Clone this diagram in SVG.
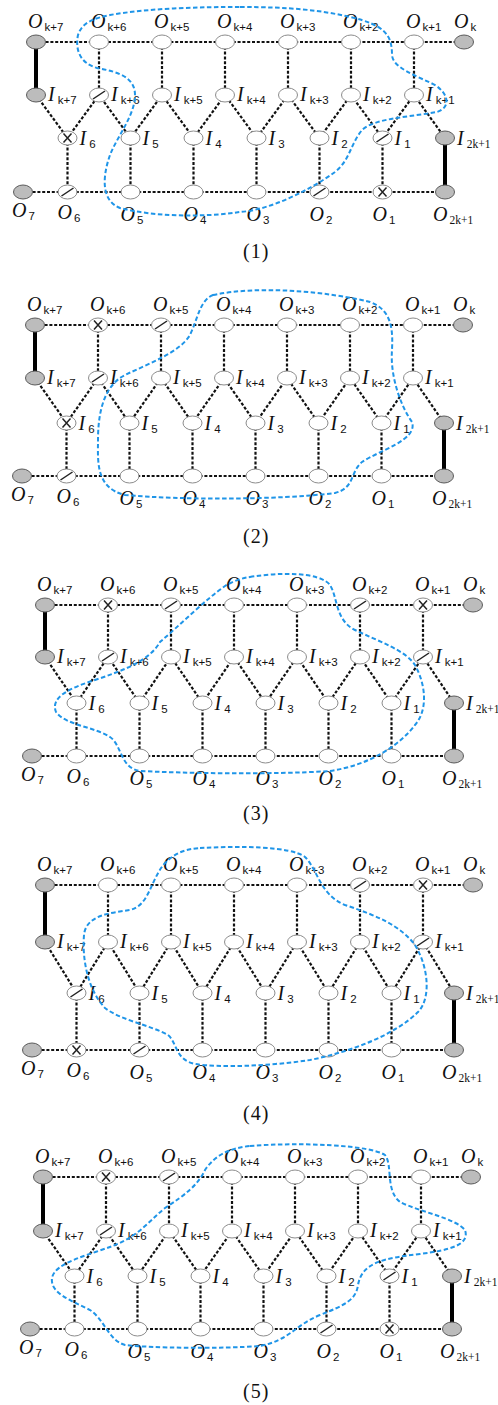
<svg xmlns="http://www.w3.org/2000/svg" xmlns:xlink="http://www.w3.org/1999/xlink" width="498" height="1405" viewBox="0 0 498 1405">
<style>
ellipse{rx:9.5px;ry:7px;stroke-width:1}
.w{fill:#fff;stroke:#8c8c8c}
.g{fill:#bcbcbc;stroke:#5a5a5a}
.d{fill:none;stroke:#111;stroke-width:2.2;stroke-dasharray:3 1.8}
.t{fill:none;stroke:#000;stroke-width:4}
.m{fill:none;stroke:#222;stroke-width:1.5}
.b{fill:none;stroke:#1f95e8;stroke-width:2;stroke-dasharray:4.5 2.5}
.L{font-family:"Liberation Serif",serif;font-style:italic;font-size:20px;fill:#111}
.s{font-family:"Liberation Sans",sans-serif;font-style:normal;font-size:11.5px}
.r{font-family:"Liberation Serif",serif;font-style:normal;font-size:11.5px}
.num{font-family:"Liberation Serif",serif;font-size:20px;letter-spacing:1px;fill:#111}
</style>
<defs>
<path id="sl" d="M-6 4L6-4"/>
<path id="xx" d="M-4-4.5L4 4.5M-4 4.5L4-4.5"/>
</defs>

<!-- ===== panel 1 ===== -->
<g id="p1-links">
<path class="d" d="M36 42H464M23 192H445M99 42V95M162 42V95M225 42V95M288 42V95M351 42V95M414 42V95M36 95L67.5 138L99 95L130.5 138L162 95L193.5 138L225 95L256.5 138L288 95L319.5 138L351 95L382.5 138L414 95L445 138M67.5 138V192M130.5 138V192M193.5 138V192M256.5 138V192M319.5 138V192M382.5 138V192"/>
<path class="t" d="M36 42V95M445 138V192"/>
</g>
<g id="p1-ok7"><ellipse class="g" cx="36" cy="42"/><text class="L" x="28" y="28">O<tspan class="s" dx="2" dy="3">k+7</tspan></text></g>
<g id="p1-ok6"><ellipse class="w" cx="99" cy="42"/><text class="L" x="91" y="28">O<tspan class="s" dx="2" dy="3">k+6</tspan></text></g>
<g id="p1-ok5"><ellipse class="w" cx="162" cy="42"/><text class="L" x="154" y="28">O<tspan class="s" dx="2" dy="3">k+5</tspan></text></g>
<g id="p1-ok4"><ellipse class="w" cx="225" cy="42"/><text class="L" x="217" y="28">O<tspan class="s" dx="2" dy="3">k+4</tspan></text></g>
<g id="p1-ok3"><ellipse class="w" cx="288" cy="42"/><text class="L" x="280" y="28">O<tspan class="s" dx="2" dy="3">k+3</tspan></text></g>
<g id="p1-ok2"><ellipse class="w" cx="351" cy="42"/><text class="L" x="343" y="28">O<tspan class="s" dx="2" dy="3">k+2</tspan></text></g>
<g id="p1-ok1"><ellipse class="w" cx="414" cy="42"/><text class="L" x="406" y="28">O<tspan class="s" dx="2" dy="3">k+1</tspan></text></g>
<g id="p1-ok"><ellipse class="g" cx="464" cy="42"/><text class="L" x="454" y="28">O<tspan class="s" dx="2" dy="3">k</tspan></text></g>
<g id="p1-ik7"><ellipse class="g" cx="36" cy="95"/><text class="L" x="48" y="101">I<tspan class="s" dx="3" dy="3">k+7</tspan></text></g>
<g id="p1-ik6"><ellipse class="w" cx="99" cy="95"/><use href="#sl" x="99" y="95" class="m"/><text class="L" x="111" y="101">I<tspan class="s" dx="3" dy="3">k+6</tspan></text></g>
<g id="p1-ik5"><ellipse class="w" cx="162" cy="95"/><text class="L" x="174" y="101">I<tspan class="s" dx="3" dy="3">k+5</tspan></text></g>
<g id="p1-ik4"><ellipse class="w" cx="225" cy="95"/><text class="L" x="237" y="101">I<tspan class="s" dx="3" dy="3">k+4</tspan></text></g>
<g id="p1-ik3"><ellipse class="w" cx="288" cy="95"/><text class="L" x="300" y="101">I<tspan class="s" dx="3" dy="3">k+3</tspan></text></g>
<g id="p1-ik2"><ellipse class="w" cx="351" cy="95"/><text class="L" x="363" y="101">I<tspan class="s" dx="3" dy="3">k+2</tspan></text></g>
<g id="p1-ik1"><ellipse class="w" cx="414" cy="95"/><text class="L" x="426" y="101">I<tspan class="s" dx="3" dy="3">k+1</tspan></text></g>
<g id="p1-i6"><ellipse class="w" cx="67.5" cy="138"/><use href="#xx" x="67.5" y="138" class="m"/><text class="L" x="79.5" y="145">I<tspan class="s" dx="3" dy="3">6</tspan></text></g>
<g id="p1-i5"><ellipse class="w" cx="130.5" cy="138"/><text class="L" x="142.5" y="145">I<tspan class="s" dx="3" dy="3">5</tspan></text></g>
<g id="p1-i4"><ellipse class="w" cx="193.5" cy="138"/><text class="L" x="205.5" y="145">I<tspan class="s" dx="3" dy="3">4</tspan></text></g>
<g id="p1-i3"><ellipse class="w" cx="256.5" cy="138"/><text class="L" x="268.5" y="145">I<tspan class="s" dx="3" dy="3">3</tspan></text></g>
<g id="p1-i2"><ellipse class="w" cx="319.5" cy="138"/><text class="L" x="331.5" y="145">I<tspan class="s" dx="3" dy="3">2</tspan></text></g>
<g id="p1-i1"><ellipse class="w" cx="382.5" cy="138"/><use href="#sl" x="382.5" y="138" class="m"/><text class="L" x="394.5" y="145">I<tspan class="s" dx="3" dy="3">1</tspan></text></g>
<g id="p1-i2k1"><ellipse class="g" cx="445" cy="138"/><text class="L" x="457" y="145">I<tspan class="r" dx="3" dy="3">2k+1</tspan></text></g>
<g id="p1-o7"><ellipse class="g" cx="23" cy="192"/><text class="L" x="12" y="217">O<tspan class="s" dx="2" dy="3">7</tspan></text></g>
<g id="p1-o6"><ellipse class="w" cx="67.5" cy="192"/><use href="#sl" x="67.5" y="192" class="m"/><text class="L" x="57.5" y="219">O<tspan class="s" dx="2" dy="3">6</tspan></text></g>
<g id="p1-o5"><ellipse class="w" cx="130.5" cy="192"/><text class="L" x="120.5" y="221">O<tspan class="s" dx="2" dy="3">5</tspan></text></g>
<g id="p1-o4"><ellipse class="w" cx="193.5" cy="192"/><text class="L" x="183.5" y="221">O<tspan class="s" dx="2" dy="3">4</tspan></text></g>
<g id="p1-o3"><ellipse class="w" cx="256.5" cy="192"/><text class="L" x="246.5" y="221">O<tspan class="s" dx="2" dy="3">3</tspan></text></g>
<g id="p1-o2"><ellipse class="w" cx="319.5" cy="192"/><use href="#sl" x="319.5" y="192" class="m"/><text class="L" x="309.5" y="221">O<tspan class="s" dx="2" dy="3">2</tspan></text></g>
<g id="p1-o1"><ellipse class="w" cx="382.5" cy="192"/><use href="#xx" x="382.5" y="192" class="m"/><text class="L" x="372.5" y="221">O<tspan class="s" dx="2" dy="3">1</tspan></text></g>
<g id="p1-o2k1"><ellipse class="g" cx="445" cy="192"/><text class="L" x="433" y="221">O<tspan class="r" dx="2" dy="3">2k+1</tspan></text></g>
<text id="p1-num" class="num" x="243" y="258">(1)</text>

<!-- ===== panel 2 ===== -->
<g id="p2-links">
<path class="d" d="M35 325H463M22 476H444M98 325V378M161 325V378M224 325V378M287 325V378M350 325V378M413 325V378M35 378L66.5 423L98 378L129.5 423L161 378L192.5 423L224 378L255.5 423L287 378L318.5 423L350 378L381.5 423L413 378L444 423M66.5 423V476M129.5 423V476M192.5 423V476M255.5 423V476M318.5 423V476M381.5 423V476"/>
<path class="t" d="M35 325V378M444 423V476"/>
</g>
<g id="p2-ok7"><ellipse class="g" cx="35" cy="325"/><text class="L" x="27" y="311">O<tspan class="s" dx="2" dy="3">k+7</tspan></text></g>
<g id="p2-ok6"><ellipse class="w" cx="98" cy="325"/><use href="#xx" x="98" y="325" class="m"/><text class="L" x="90" y="311">O<tspan class="s" dx="2" dy="3">k+6</tspan></text></g>
<g id="p2-ok5"><ellipse class="w" cx="161" cy="325"/><use href="#sl" x="161" y="325" class="m"/><text class="L" x="153" y="311">O<tspan class="s" dx="2" dy="3">k+5</tspan></text></g>
<g id="p2-ok4"><ellipse class="w" cx="224" cy="325"/><text class="L" x="216" y="311">O<tspan class="s" dx="2" dy="3">k+4</tspan></text></g>
<g id="p2-ok3"><ellipse class="w" cx="287" cy="325"/><text class="L" x="279" y="311">O<tspan class="s" dx="2" dy="3">k+3</tspan></text></g>
<g id="p2-ok2"><ellipse class="w" cx="350" cy="325"/><text class="L" x="342" y="311">O<tspan class="s" dx="2" dy="3">k+2</tspan></text></g>
<g id="p2-ok1"><ellipse class="w" cx="413" cy="325"/><text class="L" x="405" y="311">O<tspan class="s" dx="2" dy="3">k+1</tspan></text></g>
<g id="p2-ok"><ellipse class="g" cx="463" cy="325"/><text class="L" x="453" y="311">O<tspan class="s" dx="2" dy="3">k</tspan></text></g>
<g id="p2-ik7"><ellipse class="g" cx="35" cy="378"/><text class="L" x="47" y="384">I<tspan class="s" dx="3" dy="3">k+7</tspan></text></g>
<g id="p2-ik6"><ellipse class="w" cx="98" cy="378"/><use href="#sl" x="98" y="378" class="m"/><text class="L" x="110" y="384">I<tspan class="s" dx="3" dy="3">k+6</tspan></text></g>
<g id="p2-ik5"><ellipse class="w" cx="161" cy="378"/><text class="L" x="173" y="384">I<tspan class="s" dx="3" dy="3">k+5</tspan></text></g>
<g id="p2-ik4"><ellipse class="w" cx="224" cy="378"/><text class="L" x="236" y="384">I<tspan class="s" dx="3" dy="3">k+4</tspan></text></g>
<g id="p2-ik3"><ellipse class="w" cx="287" cy="378"/><text class="L" x="299" y="384">I<tspan class="s" dx="3" dy="3">k+3</tspan></text></g>
<g id="p2-ik2"><ellipse class="w" cx="350" cy="378"/><text class="L" x="362" y="384">I<tspan class="s" dx="3" dy="3">k+2</tspan></text></g>
<g id="p2-ik1"><ellipse class="w" cx="413" cy="378"/><text class="L" x="425" y="384">I<tspan class="s" dx="3" dy="3">k+1</tspan></text></g>
<g id="p2-i6"><ellipse class="w" cx="66.5" cy="423"/><use href="#xx" x="66.5" y="423" class="m"/><text class="L" x="78.5" y="430">I<tspan class="s" dx="3" dy="3">6</tspan></text></g>
<g id="p2-i5"><ellipse class="w" cx="129.5" cy="423"/><text class="L" x="141.5" y="430">I<tspan class="s" dx="3" dy="3">5</tspan></text></g>
<g id="p2-i4"><ellipse class="w" cx="192.5" cy="423"/><text class="L" x="204.5" y="430">I<tspan class="s" dx="3" dy="3">4</tspan></text></g>
<g id="p2-i3"><ellipse class="w" cx="255.5" cy="423"/><text class="L" x="267.5" y="430">I<tspan class="s" dx="3" dy="3">3</tspan></text></g>
<g id="p2-i2"><ellipse class="w" cx="318.5" cy="423"/><text class="L" x="330.5" y="430">I<tspan class="s" dx="3" dy="3">2</tspan></text></g>
<g id="p2-i1"><ellipse class="w" cx="381.5" cy="423"/><text class="L" x="393.5" y="430">I<tspan class="s" dx="3" dy="3">1</tspan></text></g>
<g id="p2-i2k1"><ellipse class="g" cx="444" cy="423"/><text class="L" x="456" y="430">I<tspan class="r" dx="3" dy="3">2k+1</tspan></text></g>
<g id="p2-o7"><ellipse class="g" cx="22" cy="476"/><text class="L" x="11" y="501">O<tspan class="s" dx="2" dy="3">7</tspan></text></g>
<g id="p2-o6"><ellipse class="w" cx="66.5" cy="476"/><use href="#sl" x="66.5" y="476" class="m"/><text class="L" x="56.5" y="503">O<tspan class="s" dx="2" dy="3">6</tspan></text></g>
<g id="p2-o5"><ellipse class="w" cx="129.5" cy="476"/><text class="L" x="119.5" y="505">O<tspan class="s" dx="2" dy="3">5</tspan></text></g>
<g id="p2-o4"><ellipse class="w" cx="192.5" cy="476"/><text class="L" x="182.5" y="505">O<tspan class="s" dx="2" dy="3">4</tspan></text></g>
<g id="p2-o3"><ellipse class="w" cx="255.5" cy="476"/><text class="L" x="245.5" y="505">O<tspan class="s" dx="2" dy="3">3</tspan></text></g>
<g id="p2-o2"><ellipse class="w" cx="318.5" cy="476"/><text class="L" x="308.5" y="505">O<tspan class="s" dx="2" dy="3">2</tspan></text></g>
<g id="p2-o1"><ellipse class="w" cx="381.5" cy="476"/><text class="L" x="371.5" y="505">O<tspan class="s" dx="2" dy="3">1</tspan></text></g>
<g id="p2-o2k1"><ellipse class="g" cx="444" cy="476"/><text class="L" x="432" y="505">O<tspan class="r" dx="2" dy="3">2k+1</tspan></text></g>
<text id="p2-num" class="num" x="243" y="543">(2)</text>

<!-- ===== panel 3 ===== -->
<g id="p3-links">
<path class="d" d="M45 605H473M32 756H454M108 605V657M171 605V657M234 605V657M297 605V657M360 605V657M423 605V657M45 657L76.5 703L108 657L139.5 703L171 657L202.5 703L234 657L265.5 703L297 657L328.5 703L360 657L391.5 703L423 657L454 703M76.5 703V756M139.5 703V756M202.5 703V756M265.5 703V756M328.5 703V756M391.5 703V756"/>
<path class="t" d="M45 605V657M454 703V756"/>
</g>
<g id="p3-ok7"><ellipse class="g" cx="45" cy="605"/><text class="L" x="37" y="591">O<tspan class="s" dx="2" dy="3">k+7</tspan></text></g>
<g id="p3-ok6"><ellipse class="w" cx="108" cy="605"/><use href="#xx" x="108" y="605" class="m"/><text class="L" x="100" y="591">O<tspan class="s" dx="2" dy="3">k+6</tspan></text></g>
<g id="p3-ok5"><ellipse class="w" cx="171" cy="605"/><use href="#sl" x="171" y="605" class="m"/><text class="L" x="163" y="591">O<tspan class="s" dx="2" dy="3">k+5</tspan></text></g>
<g id="p3-ok4"><ellipse class="w" cx="234" cy="605"/><text class="L" x="226" y="591">O<tspan class="s" dx="2" dy="3">k+4</tspan></text></g>
<g id="p3-ok3"><ellipse class="w" cx="297" cy="605"/><text class="L" x="289" y="591">O<tspan class="s" dx="2" dy="3">k+3</tspan></text></g>
<g id="p3-ok2"><ellipse class="w" cx="360" cy="605"/><use href="#sl" x="360" y="605" class="m"/><text class="L" x="352" y="591">O<tspan class="s" dx="2" dy="3">k+2</tspan></text></g>
<g id="p3-ok1"><ellipse class="w" cx="423" cy="605"/><use href="#xx" x="423" y="605" class="m"/><text class="L" x="415" y="591">O<tspan class="s" dx="2" dy="3">k+1</tspan></text></g>
<g id="p3-ok"><ellipse class="g" cx="473" cy="605"/><text class="L" x="463" y="591">O<tspan class="s" dx="2" dy="3">k</tspan></text></g>
<g id="p3-ik7"><ellipse class="g" cx="45" cy="657"/><text class="L" x="57" y="663">I<tspan class="s" dx="3" dy="3">k+7</tspan></text></g>
<g id="p3-ik6"><ellipse class="w" cx="108" cy="657"/><use href="#sl" x="108" y="657" class="m"/><text class="L" x="120" y="663">I<tspan class="s" dx="3" dy="3">k+6</tspan></text></g>
<g id="p3-ik5"><ellipse class="w" cx="171" cy="657"/><text class="L" x="183" y="663">I<tspan class="s" dx="3" dy="3">k+5</tspan></text></g>
<g id="p3-ik4"><ellipse class="w" cx="234" cy="657"/><text class="L" x="246" y="663">I<tspan class="s" dx="3" dy="3">k+4</tspan></text></g>
<g id="p3-ik3"><ellipse class="w" cx="297" cy="657"/><text class="L" x="309" y="663">I<tspan class="s" dx="3" dy="3">k+3</tspan></text></g>
<g id="p3-ik2"><ellipse class="w" cx="360" cy="657"/><text class="L" x="372" y="663">I<tspan class="s" dx="3" dy="3">k+2</tspan></text></g>
<g id="p3-ik1"><ellipse class="w" cx="423" cy="657"/><use href="#sl" x="423" y="657" class="m"/><text class="L" x="435" y="663">I<tspan class="s" dx="3" dy="3">k+1</tspan></text></g>
<g id="p3-i6"><ellipse class="w" cx="76.5" cy="703"/><text class="L" x="88.5" y="710">I<tspan class="s" dx="3" dy="3">6</tspan></text></g>
<g id="p3-i5"><ellipse class="w" cx="139.5" cy="703"/><text class="L" x="151.5" y="710">I<tspan class="s" dx="3" dy="3">5</tspan></text></g>
<g id="p3-i4"><ellipse class="w" cx="202.5" cy="703"/><text class="L" x="214.5" y="710">I<tspan class="s" dx="3" dy="3">4</tspan></text></g>
<g id="p3-i3"><ellipse class="w" cx="265.5" cy="703"/><text class="L" x="277.5" y="710">I<tspan class="s" dx="3" dy="3">3</tspan></text></g>
<g id="p3-i2"><ellipse class="w" cx="328.5" cy="703"/><text class="L" x="340.5" y="710">I<tspan class="s" dx="3" dy="3">2</tspan></text></g>
<g id="p3-i1"><ellipse class="w" cx="391.5" cy="703"/><text class="L" x="403.5" y="710">I<tspan class="s" dx="3" dy="3">1</tspan></text></g>
<g id="p3-i2k1"><ellipse class="g" cx="454" cy="703"/><text class="L" x="466" y="710">I<tspan class="r" dx="3" dy="3">2k+1</tspan></text></g>
<g id="p3-o7"><ellipse class="g" cx="32" cy="756"/><text class="L" x="21" y="781">O<tspan class="s" dx="2" dy="3">7</tspan></text></g>
<g id="p3-o6"><ellipse class="w" cx="76.5" cy="756"/><text class="L" x="66.5" y="783">O<tspan class="s" dx="2" dy="3">6</tspan></text></g>
<g id="p3-o5"><ellipse class="w" cx="139.5" cy="756"/><text class="L" x="129.5" y="785">O<tspan class="s" dx="2" dy="3">5</tspan></text></g>
<g id="p3-o4"><ellipse class="w" cx="202.5" cy="756"/><text class="L" x="192.5" y="785">O<tspan class="s" dx="2" dy="3">4</tspan></text></g>
<g id="p3-o3"><ellipse class="w" cx="265.5" cy="756"/><text class="L" x="255.5" y="785">O<tspan class="s" dx="2" dy="3">3</tspan></text></g>
<g id="p3-o2"><ellipse class="w" cx="328.5" cy="756"/><text class="L" x="318.5" y="785">O<tspan class="s" dx="2" dy="3">2</tspan></text></g>
<g id="p3-o1"><ellipse class="w" cx="391.5" cy="756"/><text class="L" x="381.5" y="785">O<tspan class="s" dx="2" dy="3">1</tspan></text></g>
<g id="p3-o2k1"><ellipse class="g" cx="454" cy="756"/><text class="L" x="442" y="785">O<tspan class="r" dx="2" dy="3">2k+1</tspan></text></g>
<text id="p3-num" class="num" x="243" y="820">(3)</text>

<!-- ===== panel 4 ===== -->
<g id="p4-links">
<path class="d" d="M45 885H473M32 1050H454M108 885V942M171 885V942M234 885V942M297 885V942M360 885V942M423 885V942M45 942L76.5 993L108 942L139.5 993L171 942L202.5 993L234 942L265.5 993L297 942L328.5 993L360 942L391.5 993L423 942L454 993M76.5 993V1050M139.5 993V1050M202.5 993V1050M265.5 993V1050M328.5 993V1050M391.5 993V1050"/>
<path class="t" d="M45 885V942M454 993V1050"/>
</g>
<g id="p4-ok7"><ellipse class="g" cx="45" cy="885"/><text class="L" x="37" y="871">O<tspan class="s" dx="2" dy="3">k+7</tspan></text></g>
<g id="p4-ok6"><ellipse class="w" cx="108" cy="885"/><text class="L" x="100" y="871">O<tspan class="s" dx="2" dy="3">k+6</tspan></text></g>
<g id="p4-ok5"><ellipse class="w" cx="171" cy="885"/><text class="L" x="163" y="871">O<tspan class="s" dx="2" dy="3">k+5</tspan></text></g>
<g id="p4-ok4"><ellipse class="w" cx="234" cy="885"/><text class="L" x="226" y="871">O<tspan class="s" dx="2" dy="3">k+4</tspan></text></g>
<g id="p4-ok3"><ellipse class="w" cx="297" cy="885"/><text class="L" x="289" y="871">O<tspan class="s" dx="2" dy="3">k+3</tspan></text></g>
<g id="p4-ok2"><ellipse class="w" cx="360" cy="885"/><use href="#sl" x="360" y="885" class="m"/><text class="L" x="352" y="871">O<tspan class="s" dx="2" dy="3">k+2</tspan></text></g>
<g id="p4-ok1"><ellipse class="w" cx="423" cy="885"/><use href="#xx" x="423" y="885" class="m"/><text class="L" x="415" y="871">O<tspan class="s" dx="2" dy="3">k+1</tspan></text></g>
<g id="p4-ok"><ellipse class="g" cx="473" cy="885"/><text class="L" x="463" y="871">O<tspan class="s" dx="2" dy="3">k</tspan></text></g>
<g id="p4-ik7"><ellipse class="g" cx="45" cy="942"/><text class="L" x="57" y="948">I<tspan class="s" dx="3" dy="3">k+7</tspan></text></g>
<g id="p4-ik6"><ellipse class="w" cx="108" cy="942"/><text class="L" x="120" y="948">I<tspan class="s" dx="3" dy="3">k+6</tspan></text></g>
<g id="p4-ik5"><ellipse class="w" cx="171" cy="942"/><text class="L" x="183" y="948">I<tspan class="s" dx="3" dy="3">k+5</tspan></text></g>
<g id="p4-ik4"><ellipse class="w" cx="234" cy="942"/><text class="L" x="246" y="948">I<tspan class="s" dx="3" dy="3">k+4</tspan></text></g>
<g id="p4-ik3"><ellipse class="w" cx="297" cy="942"/><text class="L" x="309" y="948">I<tspan class="s" dx="3" dy="3">k+3</tspan></text></g>
<g id="p4-ik2"><ellipse class="w" cx="360" cy="942"/><text class="L" x="372" y="948">I<tspan class="s" dx="3" dy="3">k+2</tspan></text></g>
<g id="p4-ik1"><ellipse class="w" cx="423" cy="942"/><use href="#sl" x="423" y="942" class="m"/><text class="L" x="435" y="948">I<tspan class="s" dx="3" dy="3">k+1</tspan></text></g>
<g id="p4-i6"><ellipse class="w" cx="76.5" cy="993"/><use href="#sl" x="76.5" y="993" class="m"/><text class="L" x="88.5" y="1000">I<tspan class="s" dx="3" dy="3">6</tspan></text></g>
<g id="p4-i5"><ellipse class="w" cx="139.5" cy="993"/><text class="L" x="151.5" y="1000">I<tspan class="s" dx="3" dy="3">5</tspan></text></g>
<g id="p4-i4"><ellipse class="w" cx="202.5" cy="993"/><text class="L" x="214.5" y="1000">I<tspan class="s" dx="3" dy="3">4</tspan></text></g>
<g id="p4-i3"><ellipse class="w" cx="265.5" cy="993"/><text class="L" x="277.5" y="1000">I<tspan class="s" dx="3" dy="3">3</tspan></text></g>
<g id="p4-i2"><ellipse class="w" cx="328.5" cy="993"/><text class="L" x="340.5" y="1000">I<tspan class="s" dx="3" dy="3">2</tspan></text></g>
<g id="p4-i1"><ellipse class="w" cx="391.5" cy="993"/><text class="L" x="403.5" y="1000">I<tspan class="s" dx="3" dy="3">1</tspan></text></g>
<g id="p4-i2k1"><ellipse class="g" cx="454" cy="993"/><text class="L" x="466" y="1000">I<tspan class="r" dx="3" dy="3">2k+1</tspan></text></g>
<g id="p4-o7"><ellipse class="g" cx="32" cy="1050"/><text class="L" x="21" y="1075">O<tspan class="s" dx="2" dy="3">7</tspan></text></g>
<g id="p4-o6"><ellipse class="w" cx="76.5" cy="1050"/><use href="#xx" x="76.5" y="1050" class="m"/><text class="L" x="66.5" y="1077">O<tspan class="s" dx="2" dy="3">6</tspan></text></g>
<g id="p4-o5"><ellipse class="w" cx="139.5" cy="1050"/><use href="#sl" x="139.5" y="1050" class="m"/><text class="L" x="129.5" y="1079">O<tspan class="s" dx="2" dy="3">5</tspan></text></g>
<g id="p4-o4"><ellipse class="w" cx="202.5" cy="1050"/><text class="L" x="192.5" y="1079">O<tspan class="s" dx="2" dy="3">4</tspan></text></g>
<g id="p4-o3"><ellipse class="w" cx="265.5" cy="1050"/><text class="L" x="255.5" y="1079">O<tspan class="s" dx="2" dy="3">3</tspan></text></g>
<g id="p4-o2"><ellipse class="w" cx="328.5" cy="1050"/><text class="L" x="318.5" y="1079">O<tspan class="s" dx="2" dy="3">2</tspan></text></g>
<g id="p4-o1"><ellipse class="w" cx="391.5" cy="1050"/><text class="L" x="381.5" y="1079">O<tspan class="s" dx="2" dy="3">1</tspan></text></g>
<g id="p4-o2k1"><ellipse class="g" cx="454" cy="1050"/><text class="L" x="442" y="1079">O<tspan class="r" dx="2" dy="3">2k+1</tspan></text></g>
<text id="p4-num" class="num" x="243" y="1120">(4)</text>

<!-- ===== panel 5 ===== -->
<g id="p5-links">
<path class="d" d="M43 1177H471M30 1329H452M106 1177V1231M169 1177V1231M232 1177V1231M295 1177V1231M358 1177V1231M421 1177V1231M43 1231L74.5 1276L106 1231L137.5 1276L169 1231L200.5 1276L232 1231L263.5 1276L295 1231L326.5 1276L358 1231L389.5 1276L421 1231L452 1276M74.5 1276V1329M137.5 1276V1329M200.5 1276V1329M263.5 1276V1329M326.5 1276V1329M389.5 1276V1329"/>
<path class="t" d="M43 1177V1231M452 1276V1329"/>
</g>
<g id="p5-ok7"><ellipse class="g" cx="43" cy="1177"/><text class="L" x="35" y="1163">O<tspan class="s" dx="2" dy="3">k+7</tspan></text></g>
<g id="p5-ok6"><ellipse class="w" cx="106" cy="1177"/><use href="#xx" x="106" y="1177" class="m"/><text class="L" x="98" y="1163">O<tspan class="s" dx="2" dy="3">k+6</tspan></text></g>
<g id="p5-ok5"><ellipse class="w" cx="169" cy="1177"/><use href="#sl" x="169" y="1177" class="m"/><text class="L" x="161" y="1163">O<tspan class="s" dx="2" dy="3">k+5</tspan></text></g>
<g id="p5-ok4"><ellipse class="w" cx="232" cy="1177"/><text class="L" x="224" y="1163">O<tspan class="s" dx="2" dy="3">k+4</tspan></text></g>
<g id="p5-ok3"><ellipse class="w" cx="295" cy="1177"/><text class="L" x="287" y="1163">O<tspan class="s" dx="2" dy="3">k+3</tspan></text></g>
<g id="p5-ok2"><ellipse class="w" cx="358" cy="1177"/><text class="L" x="350" y="1163">O<tspan class="s" dx="2" dy="3">k+2</tspan></text></g>
<g id="p5-ok1"><ellipse class="w" cx="421" cy="1177"/><text class="L" x="413" y="1163">O<tspan class="s" dx="2" dy="3">k+1</tspan></text></g>
<g id="p5-ok"><ellipse class="g" cx="471" cy="1177"/><text class="L" x="461" y="1163">O<tspan class="s" dx="2" dy="3">k</tspan></text></g>
<g id="p5-ik7"><ellipse class="g" cx="43" cy="1231"/><text class="L" x="55" y="1237">I<tspan class="s" dx="3" dy="3">k+7</tspan></text></g>
<g id="p5-ik6"><ellipse class="w" cx="106" cy="1231"/><use href="#sl" x="106" y="1231" class="m"/><text class="L" x="118" y="1237">I<tspan class="s" dx="3" dy="3">k+6</tspan></text></g>
<g id="p5-ik5"><ellipse class="w" cx="169" cy="1231"/><text class="L" x="181" y="1237">I<tspan class="s" dx="3" dy="3">k+5</tspan></text></g>
<g id="p5-ik4"><ellipse class="w" cx="232" cy="1231"/><text class="L" x="244" y="1237">I<tspan class="s" dx="3" dy="3">k+4</tspan></text></g>
<g id="p5-ik3"><ellipse class="w" cx="295" cy="1231"/><text class="L" x="307" y="1237">I<tspan class="s" dx="3" dy="3">k+3</tspan></text></g>
<g id="p5-ik2"><ellipse class="w" cx="358" cy="1231"/><text class="L" x="370" y="1237">I<tspan class="s" dx="3" dy="3">k+2</tspan></text></g>
<g id="p5-ik1"><ellipse class="w" cx="421" cy="1231"/><text class="L" x="433" y="1237">I<tspan class="s" dx="3" dy="3">k+1</tspan></text></g>
<g id="p5-i6"><ellipse class="w" cx="74.5" cy="1276"/><text class="L" x="86.5" y="1283">I<tspan class="s" dx="3" dy="3">6</tspan></text></g>
<g id="p5-i5"><ellipse class="w" cx="137.5" cy="1276"/><text class="L" x="149.5" y="1283">I<tspan class="s" dx="3" dy="3">5</tspan></text></g>
<g id="p5-i4"><ellipse class="w" cx="200.5" cy="1276"/><text class="L" x="212.5" y="1283">I<tspan class="s" dx="3" dy="3">4</tspan></text></g>
<g id="p5-i3"><ellipse class="w" cx="263.5" cy="1276"/><text class="L" x="275.5" y="1283">I<tspan class="s" dx="3" dy="3">3</tspan></text></g>
<g id="p5-i2"><ellipse class="w" cx="326.5" cy="1276"/><text class="L" x="338.5" y="1283">I<tspan class="s" dx="3" dy="3">2</tspan></text></g>
<g id="p5-i1"><ellipse class="w" cx="389.5" cy="1276"/><use href="#sl" x="389.5" y="1276" class="m"/><text class="L" x="401.5" y="1283">I<tspan class="s" dx="3" dy="3">1</tspan></text></g>
<g id="p5-i2k1"><ellipse class="g" cx="452" cy="1276"/><text class="L" x="464" y="1283">I<tspan class="r" dx="3" dy="3">2k+1</tspan></text></g>
<g id="p5-o7"><ellipse class="g" cx="30" cy="1329"/><text class="L" x="19" y="1354">O<tspan class="s" dx="2" dy="3">7</tspan></text></g>
<g id="p5-o6"><ellipse class="w" cx="74.5" cy="1329"/><text class="L" x="64.5" y="1356">O<tspan class="s" dx="2" dy="3">6</tspan></text></g>
<g id="p5-o5"><ellipse class="w" cx="137.5" cy="1329"/><text class="L" x="127.5" y="1358">O<tspan class="s" dx="2" dy="3">5</tspan></text></g>
<g id="p5-o4"><ellipse class="w" cx="200.5" cy="1329"/><text class="L" x="190.5" y="1358">O<tspan class="s" dx="2" dy="3">4</tspan></text></g>
<g id="p5-o3"><ellipse class="w" cx="263.5" cy="1329"/><text class="L" x="253.5" y="1358">O<tspan class="s" dx="2" dy="3">3</tspan></text></g>
<g id="p5-o2"><ellipse class="w" cx="326.5" cy="1329"/><use href="#sl" x="326.5" y="1329" class="m"/><text class="L" x="316.5" y="1358">O<tspan class="s" dx="2" dy="3">2</tspan></text></g>
<g id="p5-o1"><ellipse class="w" cx="389.5" cy="1329"/><use href="#xx" x="389.5" y="1329" class="m"/><text class="L" x="379.5" y="1358">O<tspan class="s" dx="2" dy="3">1</tspan></text></g>
<g id="p5-o2k1"><ellipse class="g" cx="452" cy="1329"/><text class="L" x="440" y="1358">O<tspan class="r" dx="2" dy="3">2k+1</tspan></text></g>
<text id="p5-num" class="num" x="243" y="1398">(5)</text>

<!-- dashed blue region outlines, one per panel -->
<g id="regions">
<path class="b" d="M240 7C290 7 320 10 350 17C385 25 392 35 392 55C393 68 415 75 435 85C450 95 450 108 437 112C410 117 375 118 362 130C350 145 350 160 335 172C310 190 270 210 240 212C200 218 150 216 120 208C100 200 103 175 110 155C118 135 135 115 135 95C135 78 120 72 97 68C80 63 75 50 78 35C82 22 95 18 110 15C150 8 200 7 240 7Z"/>
<path class="b" d="M213 295C260 285 330 292 370 302C392 310 393 330 392 350C390 375 400 405 412 422C418 440 380 450 362 462C350 472 355 488 335 493C280 500 180 500 125 495C95 488 98 460 98 440C98 410 105 385 125 375C150 363 180 352 190 335C198 318 200 300 213 295Z"/>
<path class="b" d="M250 577C280 572 320 572 330 585C338 598 335 620 355 630C380 642 405 650 415 665C426 685 428 710 415 725C400 745 370 765 330 771C270 775 180 773 140 771C120 768 122 745 110 737C95 727 65 725 56 712C50 697 70 688 95 680C125 670 150 660 160 642C180 625 205 600 225 586C235 580 243 578 250 577Z"/>
<path class="b" d="M200 848C240 846 290 846 305 857C318 870 320 895 345 905C375 915 400 925 415 945C430 970 430 1000 418 1012C395 1035 350 1052 310 1060C270 1066 220 1068 195 1064C175 1060 177 1042 168 1035C150 1025 120 1020 105 1008C88 990 82 960 84 935C86 915 110 913 130 910C150 905 150 880 165 863C175 853 185 849 200 848Z"/>
<path class="b" d="M250 1146C300 1142 370 1145 385 1155C393 1165 385 1190 400 1202C420 1212 455 1218 465 1230C470 1245 450 1250 420 1254C385 1258 362 1262 358 1285C356 1300 345 1305 320 1315C295 1325 290 1340 260 1346C220 1349 150 1348 125 1345C108 1340 105 1320 90 1310C70 1300 50 1293 52 1278C55 1262 90 1255 115 1245C140 1235 150 1220 165 1208C185 1195 198 1185 205 1170C215 1155 230 1148 250 1146Z"/>
</g>
</svg>
